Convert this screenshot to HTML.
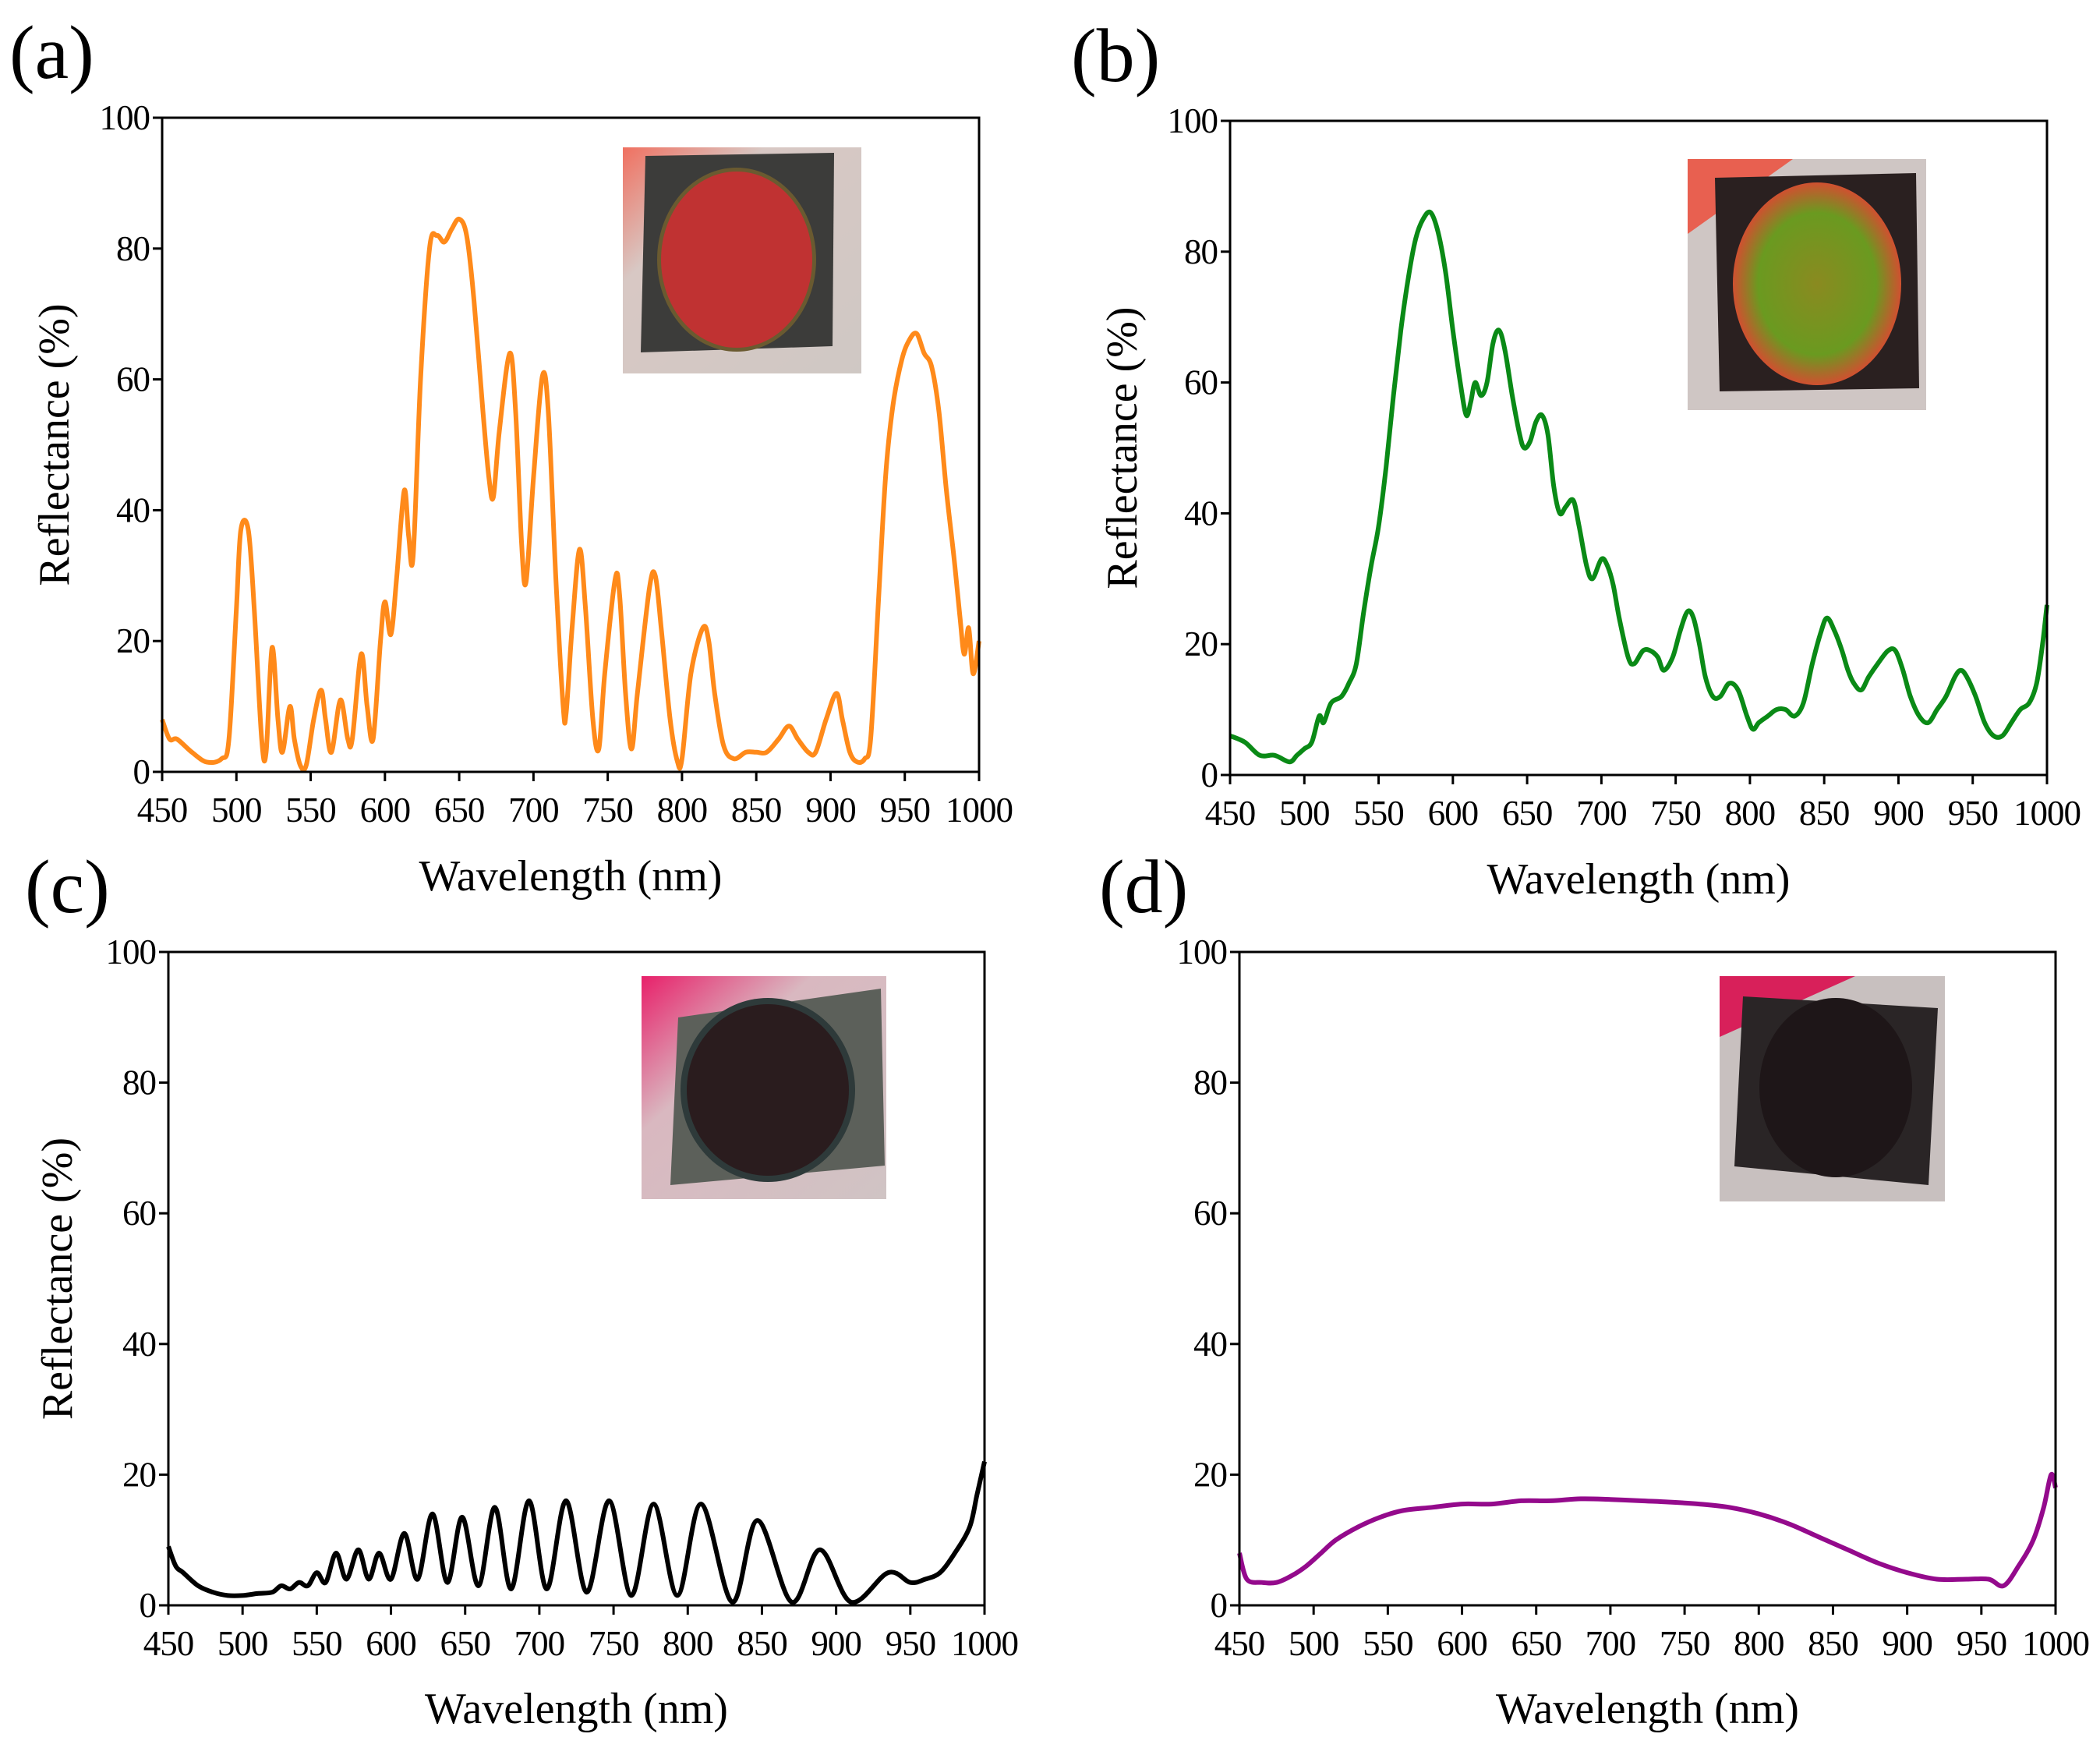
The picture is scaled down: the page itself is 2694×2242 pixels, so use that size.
<!DOCTYPE html>
<html><head><meta charset="utf-8">
<style>
html,body{margin:0;padding:0;background:#fff;}
body{width:2694px;height:2242px;position:relative;overflow:hidden;font-family:"Liberation Serif",serif;}
svg{position:absolute;left:0;top:0;}
</style></head>
<body>
<svg id="fig" width="2694" height="2242" viewBox="0 0 2694 2242" xmlns="http://www.w3.org/2000/svg">
<defs>
<linearGradient id="gA" x1="0" y1="0" x2="1" y2="1"><stop offset="0" stop-color="#f07060"/><stop offset="0.3" stop-color="#d8c8c4"/><stop offset="1" stop-color="#cfc8c4"/></linearGradient>
<linearGradient id="gC" x1="0" y1="0" x2="1" y2="1"><stop offset="0" stop-color="#e8206a"/><stop offset="0.35" stop-color="#d9b8c0"/><stop offset="1" stop-color="#d0c4c4"/></linearGradient>
<radialGradient id="rB"><stop offset="0" stop-color="#8a8a20"/><stop offset="0.7" stop-color="#6a9a20"/><stop offset="1" stop-color="#d05030"/></radialGradient>
</defs>
<g id="insets">
 <g>
  <rect x="799" y="189" width="306" height="290" fill="url(#gA)"/>
  <polygon points="828,200 1070,196 1068,444 822,452" fill="#3c3c3a"/>
  <ellipse cx="945" cy="333" rx="102" ry="118" fill="#6a5a30"/>
  <ellipse cx="945" cy="333" rx="97" ry="113" fill="#c03232"/>
 </g>
 <g>
  <rect x="2165" y="204" width="306" height="322" fill="#cfc6c4"/>
  <polygon points="2165,204 2300,204 2165,300" fill="#e86050"/>
  <polygon points="2200,228 2458,222 2462,498 2206,502" fill="#2a2020"/>
  <ellipse cx="2331" cy="364" rx="108" ry="130" fill="url(#rB)"/>
 </g>
 <g>
  <rect x="823" y="1252" width="314" height="286" fill="url(#gC)"/>
  <polygon points="870,1305 1130,1268 1135,1495 860,1520" fill="#5c605a"/>
  <ellipse cx="985" cy="1398" rx="112" ry="118" fill="#2e3a3a"/>
  <ellipse cx="985" cy="1398" rx="104" ry="110" fill="#2a1c1e"/>
 </g>
 <g>
  <rect x="2206" y="1252" width="289" height="289" fill="#c8c0bf"/>
  <polygon points="2206,1252 2380,1252 2206,1330" fill="#d8205a"/>
  <polygon points="2236,1278 2486,1293 2474,1520 2225,1496" fill="#2a2526"/>
  <ellipse cx="2355" cy="1395" rx="98" ry="115" fill="#1e1618"/>
 </g>
</g>
</svg>
<script>
// Panel data (wavelength nm, reflectance %)
const wlA=[450,455,460,470,480,490,495,500,503,508,512,517,520,524,528,531,536,539,543,547,552,557,560,564,570,575,578,584,588,592,597,600,604,608,613,616,619,624,630,635,640,645,650,655,660,666,670,673,677,684,688,692,695,700,706,710,715,720,722,726,731,735,740,744,748,755,758,762,766,770,778,782,786,792,797,800,806,814,818,822,828,835,843,850,857,865,872,878,885,890,897,904,908,913,918,923,927,932,937,942,948,953,958,963,968,973,978,983,987,990,993,996,1000];
const rA=[8,5,5,3,1.5,2,5,25,37,37,25,5,3,19,8,3,10,5,1,1,8,12.5,8,3,11,5,5,18,10,5,20,26,21,30,43,36,33,60,80,82,81,83,84.5,82,72,55,45,42,52,64,55,35,29,45,60.5,55,30,10,9,22,34,25,8,3.5,15,29.5,27,12,3.5,12,28,30,22,8,1.5,2,15,22,20,12,4,2,3,3,3,5,7,5,3,3,8,12,8,3,1.5,2,5,25,45,56,63,66,67,64,62,55,43,33,24,18,22,15,20];
const wlB=[450,460,470,480,490,495,500,505,510,513,518,525,530,535,540,545,550,555,560,565,570,575,580,585,590,595,600,605,609,612,615,619,623,627,631,635,640,645,648,652,656,660,664,668,672,676,681,685,690,694,700,704,708,712,718,722,728,733,738,742,748,753,758,762,766,770,775,780,786,792,798,802,806,812,818,824,830,836,842,848,852,857,862,866,870,875,880,886,893,898,903,908,914,920,926,932,938,942,946,952,958,964,970,976,982,988,993,997,1000];
const rB=[6,5,3,3,2,3,4,5,9,8,11,12,14,17,25,32,38,47,58,68,76,82,85,86,83,77,68,60,55,57,60,58,60,66,68,65,58,52,50,51,54,55,52,44,40,41,42,38,32,30,33,32,29,24,18,17,19,19,18,16,18,22,25,24,20,15,12,12,14,13,9,7,8,9,10,10,9,11,17,22,24,22,19,16,14,13,15,17,19,19,16,12,9,8,10,12,15,16,15,12,8,6,6,8,10,11,14,20,26];
const wlC=[450,455,460,470,480,490,500,510,520,526,532,538,544,550,556,563,570,578,585,592,600,609,618,628,638,648,659,670,681,693,705,718,732,747,762,777,793,809,830,847,870,889,910,935,950,960,970,980,990,995,1000];
const rC=[9,6,5,3,2,1.5,1.5,1.8,2,3,2.5,3.5,3,5,3.5,8,4,8.5,4,8,4,11,4,14,3.5,13.5,3,15,2.5,16,2.5,16,2,16,1.5,15.5,1.5,15.5,0.5,13,0.5,8.5,0.5,5,3.5,4,5,8,12,17,22];
const wlD=[450,455,465,475,485,495,505,515,530,545,560,580,600,620,640,660,680,700,720,740,760,780,800,820,840,860,880,900,920,940,955,965,975,985,992,997,1000];
const rD=[8,4,3.5,3.5,4.5,6,8,10,12,13.5,14.5,15,15.5,15.5,16,16,16.3,16.2,16,15.8,15.5,15,14,12.5,10.5,8.5,6.5,5,4,4,4,3,6,10,15,20,18];
const xTicks=[450,500,550,600,650,700,750,800,850,900,950,1000];
const yTicks=[0,20,40,60,80,100];

const NS='http://www.w3.org/2000/svg';
const svg=document.getElementById('fig');
const insets=document.getElementById('insets');
function el(tag,attrs,parent){const e=document.createElementNS(NS,tag);for(const k in attrs)e.setAttribute(k,attrs[k]);(parent||svg).appendChild(e);return e;}

const panels=[
 {id:'a',L:208,R:1256,T:151,B:990,wl:wlA,r:rA,color:'#ff8a1a',label:'(a)',lx:12,ly:100,yt:true,ytx:88,xty:1142},
 {id:'b',L:1578,R:2626,T:155,B:994,wl:wlB,r:rB,color:'#0a8a16',label:'(b)',lx:1374,ly:104,yt:true,ytx:1458,xty:1146},
 {id:'c',L:216,R:1263,T:1221,B:2059,wl:wlC,r:rC,color:'#000000',label:'(c)',lx:32,ly:1170,yt:true,ytx:92,xty:2210},
 {id:'d',L:1590,R:2637,T:1221,B:2059,wl:wlD,r:rD,color:'#940a8c',label:'(d)',lx:1410,ly:1170,yt:false,ytx:0,xty:2210}
];
panels.forEach(p=>{
 const g=el('g',{});
 
 
 const sx=v=>p.L+(v-450)/550*(p.R-p.L);
 const sy=v=>p.B-v/100*(p.B-p.T);
 let pts=p.wl.map((w,i)=>[sx(w),sy(p.r[i])]);
 let d='M'+pts[0][0].toFixed(1)+','+pts[0][1].toFixed(1);
 for(let i=0;i<pts.length-1;i++){
  const p0=pts[Math.max(0,i-1)],p1=pts[i],p2=pts[i+1],p3=pts[Math.min(pts.length-1,i+2)];
  const c1=[p1[0]+(p2[0]-p0[0])/6,p1[1]+(p2[1]-p0[1])/6];
  const c2=[p2[0]-(p3[0]-p1[0])/6,p2[1]-(p3[1]-p1[1])/6];
  d+=' C'+c1.map(v=>v.toFixed(1)).join(',')+' '+c2.map(v=>v.toFixed(1)).join(',')+' '+p2.map(v=>v.toFixed(1)).join(',');
 }
 const line=el('path',{d:d,fill:'none',stroke:p.color,'stroke-width':6,'stroke-linejoin':'round'},g);
 
 
 const fr=el('rect',{x:p.L,y:p.T,width:p.R-p.L,height:p.B-p.T,fill:'none',stroke:'#000','stroke-width':3},g);
 
 
 xTicks.forEach(t=>{
  el('line',{x1:sx(t),x2:sx(t),y1:p.B,y2:p.B+12,stroke:'#000','stroke-width':3},g);
  const tx=el('text',{x:sx(t),y:p.B+64,'font-size':45,'text-anchor':'middle','letter-spacing':'-1','font-family':'Liberation Serif, serif'},g);
  tx.textContent=t;
  
  
 });
 yTicks.forEach(t=>{
  el('line',{x1:p.L-12,x2:p.L,y1:sy(t),y2:sy(t),stroke:'#000','stroke-width':3},g);
  const ty=el('text',{x:p.L-16,y:sy(t)+15,'font-size':45,'text-anchor':'end','letter-spacing':'-1','font-family':'Liberation Serif, serif'},g);
  ty.textContent=t;
  
  
 });
 const xt=el('text',{x:(p.L+p.R)/2,y:p.xty,'font-size':56,'text-anchor':'middle','font-family':'Liberation Serif, serif'},g);
 xt.textContent='Wavelength (nm)';
 
 
 if(p.yt){
  const cy=(p.T+p.B)/2;
  const yt=el('text',{x:p.ytx,y:cy,'font-size':56,'text-anchor':'middle','font-family':'Liberation Serif, serif',transform:'rotate(-90 '+p.ytx+' '+cy+')'},g);
  yt.textContent='Reflectance (%)';
  
  
 }
 const pl=el('text',{x:p.lx,y:p.ly,'font-size':98,'font-family':'Liberation Serif, serif'},g);
 pl.textContent=p.label;
 
 
});
svg.appendChild(insets);
</script>
</body></html>
